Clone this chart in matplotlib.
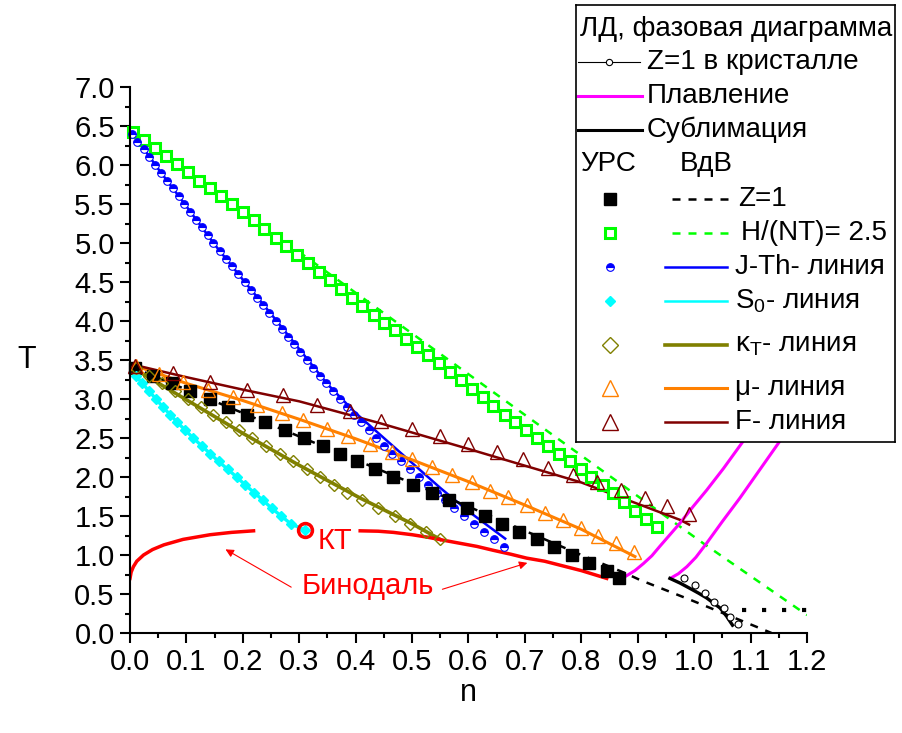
import matplotlib
matplotlib.use("Agg")
import matplotlib.pyplot as plt

plt.rcParams['font.family'] = ['Liberation Sans', 'DejaVu Sans']
plt.rcParams['mathtext.fontset'] = 'custom'
plt.rcParams['mathtext.rm'] = 'Liberation Sans'
plt.rcParams['mathtext.it'] = 'Liberation Sans:italic'

# --- УРС: H/(NT)=2.5 (green squares)
h25_n = [0.006, 0.025, 0.045, 0.064, 0.083, 0.103, 0.122, 0.142, 0.161, 0.180,
         0.200, 0.219, 0.238, 0.258, 0.277, 0.296, 0.316, 0.335, 0.354, 0.374,
         0.393, 0.412, 0.432, 0.451, 0.470, 0.490, 0.509, 0.528, 0.548, 0.567,
         0.586, 0.606, 0.625, 0.644, 0.664, 0.683, 0.702, 0.722, 0.741, 0.760,
         0.780, 0.799, 0.818, 0.838, 0.857, 0.876, 0.896, 0.915, 0.935]
h25_T = [6.42, 6.32, 6.22, 6.11, 6.01, 5.91, 5.80, 5.70, 5.60, 5.50,
         5.40, 5.29, 5.18, 5.07, 4.96, 4.85, 4.74, 4.63, 4.52, 4.41,
         4.30, 4.19, 4.08, 3.98, 3.88, 3.77, 3.67, 3.57, 3.46, 3.35,
         3.24, 3.13, 3.02, 2.91, 2.80, 2.70, 2.60, 2.50, 2.40, 2.30,
         2.20, 2.10, 2.00, 1.90, 1.79, 1.68, 1.57, 1.46, 1.355]
# ВдВ H/(NT)=2.5
h25v_n = [0.0, 0.45, 0.774, 1.016, 1.2]
h25v_T = [6.45, 4.10, 2.41, 1.15, 0.23]

# --- J-Th line
jth_T = [6.4, 6.3, 6.2, 6.1, 6.0, 5.9, 5.8, 5.7, 5.6, 5.5, 5.4, 5.3, 5.2, 5.1,
         5.0, 4.9, 4.8, 4.7, 4.6, 4.5, 4.4, 4.3, 4.2, 4.1, 4.0, 3.9, 3.8, 3.7,
         3.6, 3.5, 3.4, 3.3, 3.2, 3.1, 3.0, 2.9, 2.8, 2.7, 2.6, 2.5, 2.4, 2.3,
         2.2, 2.1, 2.0, 1.9, 1.8, 1.7, 1.6, 1.5, 1.4, 1.3, 1.2, 1.1]
jth_n = [0.003, 0.013, 0.024, 0.034, 0.045, 0.055, 0.065, 0.076, 0.086, 0.096,
         0.107, 0.117, 0.127, 0.138, 0.148, 0.159, 0.170, 0.181, 0.192, 0.203,
         0.214, 0.225, 0.236, 0.247, 0.258, 0.269, 0.280, 0.291, 0.302, 0.314,
         0.325, 0.337, 0.348, 0.360, 0.372, 0.384, 0.397, 0.410, 0.423, 0.436,
         0.450, 0.465, 0.481, 0.497, 0.513, 0.528, 0.544, 0.559, 0.575, 0.592,
         0.610, 0.628, 0.646, 0.663]
jthv_n = [0.0, 0.05, 0.10, 0.15, 0.20, 0.25, 0.30, 0.35, 0.40, 0.45, 0.50, 0.55, 0.60, 0.665]
jthv_T = [6.46, 5.95, 5.47, 4.98, 4.53, 4.09, 3.64, 3.19, 2.82, 2.50, 2.18, 1.86, 1.56, 1.21]

# --- Z=1
z1_T = [3.4, 3.3, 3.2, 3.1, 3.0, 2.9, 2.8, 2.7, 2.6, 2.5, 2.4, 2.3, 2.2, 2.1,
        2.0, 1.9, 1.8, 1.7, 1.6, 1.5, 1.4, 1.3, 1.2, 1.1, 1.0, 0.9, 0.8, 0.7]
z1_n = [0.008, 0.041, 0.074, 0.106, 0.141, 0.174, 0.207, 0.239, 0.275, 0.309,
        0.342, 0.372, 0.402, 0.435, 0.467, 0.501, 0.535, 0.566, 0.598, 0.629,
        0.659, 0.690, 0.721, 0.751, 0.783, 0.814, 0.846, 0.867]
z1v_n = [0.0, 0.2, 0.4, 0.6, 0.8, 0.877, 0.904, 0.995, 1.117, 1.137]
z1v_T = [3.42, 2.82, 2.22, 1.62, 1.00, 0.77, 0.68, 0.42, 0.06, 0.0]

# --- S0 line
s0_T = [3.3, 3.2, 3.1, 3.0, 2.9, 2.8, 2.7, 2.6, 2.5, 2.4, 2.3, 2.2, 2.1, 2.0,
        1.9, 1.8, 1.7, 1.6, 1.5, 1.4, 1.32]
s0_n = [0.010, 0.022, 0.034, 0.046, 0.058, 0.071, 0.084, 0.098, 0.112, 0.127,
        0.142, 0.157, 0.173, 0.189, 0.204, 0.220, 0.236, 0.251, 0.268, 0.285, 0.310]

# --- kappa_T line
kt_T = [3.4, 3.3, 3.2, 3.1, 3.0, 2.9, 2.8, 2.7, 2.6, 2.5, 2.4, 2.3, 2.2, 2.1,
        2.0, 1.9, 1.8, 1.7, 1.6, 1.5, 1.4, 1.3, 1.21]
kt_n = [0.010, 0.033, 0.056, 0.079, 0.102, 0.125, 0.148, 0.171, 0.194, 0.217,
        0.241, 0.265, 0.289, 0.313, 0.337, 0.361, 0.385, 0.411, 0.440, 0.470,
        0.496, 0.524, 0.549]
ktv_n = [0.0, 0.1, 0.2, 0.3, 0.408, 0.5, 0.55]
ktv_T = [3.42, 2.99, 2.56, 2.15, 1.73, 1.40, 1.20]

# --- mu line
mu_T = [3.42, 3.32, 3.22, 3.12, 3.03, 2.92, 2.82, 2.73, 2.62, 2.52, 2.42, 2.32,
        2.23, 2.13, 2.03, 1.93, 1.82, 1.74, 1.64, 1.54, 1.45, 1.34, 1.24, 1.15, 1.04]
mu_n = [0.010, 0.052, 0.094, 0.139, 0.183, 0.225, 0.269, 0.307, 0.349, 0.387,
        0.425, 0.464, 0.499, 0.535, 0.570, 0.606, 0.638, 0.670, 0.703, 0.736,
        0.768, 0.800, 0.830, 0.862, 0.893]
muv_n = [0.0, 0.1, 0.2, 0.3, 0.4, 0.5, 0.6, 0.7, 0.8, 0.895]
muv_T = [3.45, 3.20, 2.98, 2.74, 2.49, 2.22, 1.94, 1.64, 1.33, 0.98]

# --- F line
f_T = [3.42, 3.33, 3.22, 3.12, 3.05, 2.92, 2.84, 2.72, 2.62, 2.53, 2.42, 2.32,
       2.23, 2.12, 2.03, 1.93, 1.83, 1.73, 1.63, 1.53]
f_n = [0.009, 0.077, 0.142, 0.207, 0.271, 0.332, 0.390, 0.445, 0.499, 0.549,
       0.600, 0.650, 0.697, 0.741, 0.786, 0.828, 0.871, 0.913, 0.951, 0.991]
fv_n = [0.0, 0.1, 0.2, 0.3, 0.443, 0.6, 0.8, 0.975, 0.991]
fv_T = [3.45, 3.28, 3.12, 2.97, 2.69, 2.36, 1.93, 1.45, 1.39]

# --- crystal: Z=1, melting, sublimation
zc_n = [0.982, 1.001, 1.019, 1.035, 1.052, 1.063, 1.078]
zc_T = [0.71, 0.61, 0.51, 0.40, 0.32, 0.21, 0.11]
melt1_n = [0.877, 0.895, 0.91, 0.925, 0.939, 0.957, 0.975, 0.998, 1.022, 1.052,
           1.084, 1.12, 1.16]
melt1_T = [0.72, 0.80, 0.89, 0.99, 1.11, 1.26, 1.41, 1.62, 1.83, 2.11,
           2.43, 2.80, 3.20]
melt2_n = [0.96, 0.972, 0.987, 1.003, 1.022, 1.05, 1.081, 1.115, 1.149, 1.18, 1.2]
melt2_T = [0.71, 0.76, 0.85, 0.97, 1.15, 1.43, 1.73, 2.08, 2.43, 2.76, 2.98]
subl_n = [0.957, 0.975, 0.993, 1.008, 1.022, 1.035, 1.046, 1.058, 1.068]
subl_T = [0.70, 0.64, 0.57, 0.51, 0.45, 0.38, 0.32, 0.21, 0.10]
dot_n = [1.05, 1.2]
dot_T = [0.30, 0.30]

# --- binodal and critical point
bin_l_n = [0.0, 0.002, 0.006, 0.012, 0.024, 0.040, 0.060, 0.094, 0.142, 0.180, 0.219]
bin_l_T = [0.70, 0.78, 0.85, 0.92, 1.00, 1.07, 1.13, 1.20, 1.26, 1.29, 1.31]
bin_r_n = [0.408, 0.440, 0.467, 0.500, 0.526, 0.555, 0.585, 0.615, 0.644, 0.675,
           0.703, 0.735, 0.762, 0.800, 0.845]
bin_r_T = [1.31, 1.305, 1.29, 1.26, 1.23, 1.19, 1.15, 1.11, 1.06, 1.01,
           0.96, 0.92, 0.87, 0.80, 0.70]
kp_n, kp_T = 0.31, 1.32

GREEN = '#00ff00'
BLUE = '#0000ff'
CYAN = '#00ffff'
OLIVE = '#808000'
ORANGE = '#ff8000'
BROWN = '#800000'
MAGENTA = '#ff00ff'
RED = '#ff0000'
DASH = (0, (3.2, 3.2))

W, H = 903, 733
fig = plt.figure(figsize=(W / 100, H / 100), dpi=100)
ax = fig.add_axes([130 / W, 1 - 633 / H, 677 / W, 546 / H])

# lines (ВдВ and others)
ax.plot(h25v_n, h25v_T, color=GREEN, lw=1.8, ls=DASH)
ax.plot(jthv_n, jthv_T, color=BLUE, lw=1.8)
ax.plot(z1v_n, z1v_T, color='black', lw=1.8, ls=DASH)
ax.plot(s0_n, s0_T, color=CYAN, lw=2.4)
ax.plot(ktv_n, ktv_T, color=OLIVE, lw=2.6)
ax.plot(muv_n, muv_T, color=ORANGE, lw=2.2)
ax.plot(fv_n, fv_T, color=BROWN, lw=1.8)
ax.plot(melt1_n, melt1_T, color=MAGENTA, lw=2.2)
ax.plot(melt2_n, melt2_T, color=MAGENTA, lw=2.2)
ax.plot(subl_n, subl_T, color='black', lw=2.4)
ax.plot(dot_n, dot_T, color='black', lw=3, ls=(0, (1, 3.8)))
ax.plot(bin_l_n, bin_l_T, color=RED, lw=2.5)
ax.plot(bin_r_n, bin_r_T, color=RED, lw=2.5)

# markers (УРС)
ax.plot(h25_n, h25_T, 's', ms=7, mfc='white', mec=GREEN, mew=2.2, clip_on=False)
ax.plot(jth_n, jth_T, 'o', ms=5.5, fillstyle='top', mfc=BLUE, mfcalt='white',
        mec=BLUE, mew=0.8, clip_on=False)
ax.plot(z1_n, z1_T, 's', ms=8.5, color='black', clip_on=False)
ax.plot(s0_n, s0_T, 'D', ms=5.5, color=CYAN, clip_on=False)
ax.plot(kt_n, kt_T, 'D', ms=6.5, mfc='none', mec=OLIVE, mew=1, clip_on=False)
ax.plot(mu_n, mu_T, '^', ms=10.5, mfc='none', mec=ORANGE, mew=1, clip_on=False)
ax.plot(f_n, f_T, '^', ms=10.5, mfc='none', mec=BROWN, mew=1, clip_on=False)
ax.plot(zc_n, zc_T, 'o', ms=5, mfc='white', mec='black', mew=0.8, color='black', lw=0.8)
ax.plot([kp_n], [kp_T], 'o', ms=10, mfc='none', mec=RED, mew=2.5, zorder=5)

ax.text(0.363, 1.18, 'КТ', color=RED, fontsize=21, ha='center', va='center')
ax.text(0.421, 0.60, 'Бинодаль', color=RED, fontsize=21, ha='center', va='center')
arr = dict(arrowstyle='-|>', color=RED, lw=0.8, mutation_scale=12)
ax.annotate('', xy=(0.165, 1.09), xytext=(0.29, 0.57), arrowprops=arr)
ax.annotate('', xy=(0.709, 0.91), xytext=(0.549, 0.55), arrowprops=arr)

ax.set_xlim(0, 1.2)
ax.set_ylim(0, 7)
ax.set_xticks([i / 10 for i in range(13)])
ax.set_xticks([i / 20 for i in range(25)], minor=True)
ax.set_yticks([i / 2 for i in range(15)])
ax.set_yticks([i / 4 for i in range(29)], minor=True)
ax.xaxis.set_major_formatter('{x:.1f}')
ax.yaxis.set_major_formatter('{x:.1f}')
for s in ['top', 'right']:
    ax.spines[s].set_visible(False)
for s in ['left', 'bottom']:
    ax.spines[s].set_linewidth(1.5)
ax.tick_params(which='major', direction='out', length=7, width=1.5, labelsize=21, pad=4)
ax.tick_params(which='minor', direction='out', length=3.6, width=1.5)
ax.set_xlabel('n', fontsize=22, labelpad=1)
ax.set_ylabel('T', fontsize=22, rotation=0, labelpad=34, va='center')

# legend panel, drawn in pixel coordinates
lx0, ly0, lx1, ly1 = 576, 5, 895, 442
lax = fig.add_axes([lx0 / W, 1 - ly1 / H, (lx1 - lx0) / W, (ly1 - ly0) / H], zorder=5)
lax.set_xlim(lx0, lx1)
lax.set_ylim(ly1, ly0)
lax.set_xticks([])
lax.set_yticks([])
for s in lax.spines.values():
    s.set_linewidth(1.2)
fs = 20
lax.text(580, 29, 'ЛД, фазовая диаграмма', fontsize=fs, va='center')
lax.plot([578, 640], [62, 62], color='black', lw=0.8)
lax.plot([609], [62], 'o', ms=4.5, mfc='white', mec='black', mew=0.8)
lax.text(647, 62, 'Z=1 в кристалле', fontsize=fs, va='center')
lax.plot([578, 642], [96, 96], color=MAGENTA, lw=2.2)
lax.text(647, 96, 'Плавление', fontsize=fs, va='center')
lax.plot([578, 642], [130, 130], color='black', lw=2.2)
lax.text(647, 130, 'Сублимация', fontsize=fs, va='center')
lax.text(580, 164, 'УРС', fontsize=fs, va='center')
lax.text(680, 164, 'ВдВ', fontsize=fs, va='center')

rows = [
    (199, dict(marker='s', ms=8.5, color='black'), dict(color='black', lw=1.8, ls=DASH), 672, 735, 738, 'Z=1'),
    (233, dict(marker='s', ms=7, mfc='white', mec=GREEN, mew=2.2), dict(color=GREEN, lw=1.8, ls=DASH), 672, 735, 741, 'H/(NT)= 2.5'),
    (267, dict(marker='o', ms=5.5, fillstyle='top', mfc=BLUE, mfcalt='white', mec=BLUE, mew=0.8), dict(color=BLUE, lw=1.8), 665, 727, 735, 'J-Th- линия'),
    (301, dict(marker='D', ms=5, color=CYAN), dict(color=CYAN, lw=1.8), 665, 727, 735, r'S$_\mathrm{0}$- линия'),
    (345, dict(marker='D', ms=8.5, mfc='none', mec=OLIVE, mew=1), dict(color=OLIVE, lw=2.6), 665, 727, 735, r'κ$_\mathrm{T}$- линия'),
    (388, dict(marker='^', ms=11, mfc='none', mec=ORANGE, mew=1), dict(color=ORANGE, lw=2.2), 665, 727, 735, 'μ- линия'),
    (422, dict(marker='^', ms=11, mfc='none', mec=BROWN, mew=1), dict(color=BROWN, lw=1.8), 665, 727, 735, 'F- линия'),
]
for y, mkw, lkw, xs, xe, xt, label in rows:
    lax.plot([610], [y], ls='none', **mkw)
    lax.plot([xs, xe], [y, y], **lkw)
    lax.text(xt, y, label, fontsize=fs, va='center')

fig.savefig('out.png', dpi=100)
